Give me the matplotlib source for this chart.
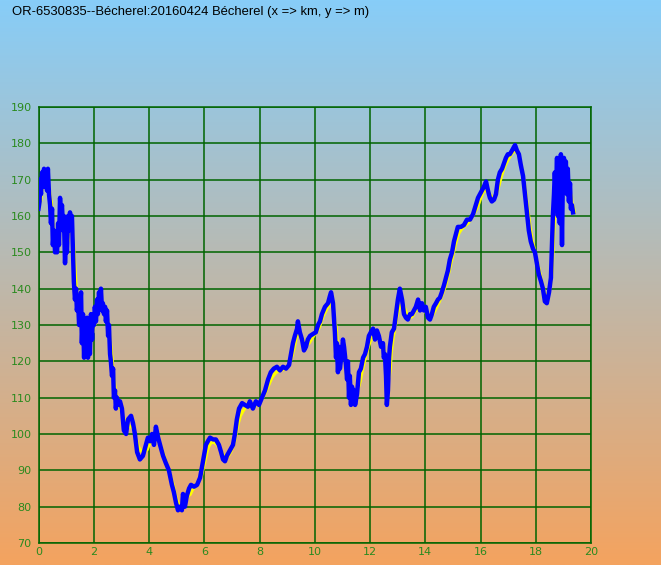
import numpy as np
import matplotlib
matplotlib.use("Agg")
import matplotlib.pyplot as plt
import matplotlib.transforms as mtransforms
from matplotlib.colors import LinearSegmentedColormap

title = "OR-6530835--Bécherel:20160424 Bécherel (x => km, y => m)"

km = [0.00, 0.04, 0.05, 0.09, 0.13, 0.16, 0.20, 0.24, 0.27, 0.31, 0.34, 0.38, 0.42, 0.45, 0.49,
      0.52, 0.56, 0.60, 0.63, 0.67, 0.71, 0.74, 0.78, 0.81, 0.85, 0.89, 0.92, 0.96, 1.00, 1.03,
      1.07, 1.10, 1.14, 1.18, 1.21, 1.25, 1.28, 1.32, 1.36, 1.39, 1.43, 1.47, 1.50, 1.54, 1.57,
      1.61, 1.65, 1.68, 1.72, 1.76, 1.79, 1.83, 1.86, 1.90, 1.94, 1.97, 2.01, 2.04, 2.08, 2.12,
      2.15, 2.19, 2.23, 2.26, 2.30, 2.33, 2.37, 2.41, 2.44, 2.48, 2.52, 2.55, 2.59, 2.62, 2.66,
      2.70, 2.73, 2.77, 2.80, 2.84, 2.88, 2.95, 3.02, 3.09, 3.17, 3.24, 3.35, 3.42, 3.49, 3.57,
      3.67, 3.78, 3.89, 3.96, 4.04, 4.11, 4.18, 4.25, 4.33, 4.40, 4.51, 4.61, 4.72, 4.83, 4.90,
      4.98, 5.05, 5.12, 5.19, 5.23, 5.30, 5.37, 5.45, 5.52, 5.63, 5.74, 5.85, 5.92, 5.99, 6.06,
      6.13, 6.21, 6.32, 6.42, 6.53, 6.61, 6.68, 6.75, 6.82, 6.93, 7.04, 7.11, 7.18, 7.26, 7.37,
      7.47, 7.58, 7.65, 7.76, 7.87, 7.98, 8.09, 8.20, 8.31, 8.41, 8.52, 8.63, 8.74, 8.85, 8.96,
      9.07, 9.14, 9.21, 9.28, 9.36, 9.39, 9.46, 9.54, 9.61, 9.68, 9.75, 9.83, 9.93, 10.04, 10.12,
      10.19, 10.26, 10.37, 10.48, 10.55, 10.59, 10.66, 10.73, 10.77, 10.80, 10.84, 10.88, 10.91, 10.99, 11.02,
      11.06, 11.13, 11.17, 11.20, 11.24, 11.27, 11.31, 11.35, 11.38, 11.42, 11.46, 11.53, 11.60, 11.67, 11.75,
      11.82, 11.89, 11.96, 12.03, 12.11, 12.18, 12.25, 12.32, 12.40, 12.47, 12.50, 12.54, 12.58, 12.61, 12.65,
      12.69, 12.72, 12.79, 12.87, 12.94, 13.01, 13.08, 13.16, 13.23, 13.30, 13.37, 13.45, 13.52, 13.59, 13.66,
      13.74, 13.81, 13.88, 13.95, 14.02, 14.10, 14.17, 14.24, 14.31, 14.39, 14.46, 14.53, 14.60, 14.68, 14.75,
      14.82, 14.89, 14.97, 15.04, 15.11, 15.18, 15.29, 15.40, 15.51, 15.62, 15.73, 15.83, 15.91, 15.98, 16.05,
      16.12, 16.20, 16.27, 16.34, 16.41, 16.49, 16.56, 16.63, 16.70, 16.78, 16.85, 16.92, 16.99, 17.06, 17.14,
      17.21, 17.25, 17.32, 17.39, 17.46, 17.54, 17.61, 17.68, 17.75, 17.82, 17.90, 17.97, 18.04, 18.11, 18.19,
      18.26, 18.33, 18.40, 18.48, 18.55, 18.58, 18.62, 18.66, 18.69, 18.73, 18.77, 18.80, 18.84, 18.87, 18.91,
      18.95, 18.98, 19.02, 19.06, 19.09, 19.13, 19.16, 19.20, 19.24, 19.27, 19.31, 19.35]

elev = [162, 164, 170, 166, 172, 168, 173, 168, 172, 167, 173, 166, 163, 158, 162,
        152, 156, 150, 153, 150, 158, 152, 165, 160, 163, 156, 160, 147, 155, 150,
        160, 156, 161, 158, 160, 150, 142, 137, 140, 134, 137, 130, 135, 139, 125,
        133, 121, 130, 125, 132, 121, 129, 122, 133, 126, 132, 130, 135, 131, 137,
        133, 139, 135, 140, 134, 136, 133, 135, 131, 134, 127, 130, 122, 120, 116,
        118, 110, 112, 107, 110, 108, 109, 107, 101, 100, 104, 105, 103, 100, 95,
        93, 94, 97, 99, 98, 100, 97, 102, 99, 97, 94, 92, 90, 86, 84,
        81, 79, 80, 79, 83.5, 80, 83, 85, 86, 85.5, 86, 88, 91, 94, 97,
        98, 99, 98.5, 98.5, 97, 95, 93, 92.5, 94, 95.5, 97, 100, 104, 107, 108.5,
        108, 107.5, 109, 107, 109, 108, 110, 112, 115, 117, 118, 118.5, 117.5, 118.5, 118,
        119, 122, 125, 127, 129, 131, 128, 126, 123, 124, 126, 127, 127.5, 128, 130,
        131, 133, 135, 136, 138, 139, 136, 128, 121, 125, 117, 124, 118, 123, 126,
        124, 119, 115, 120, 110, 116, 108, 113, 109, 112, 108, 111, 117, 118, 121,
        122, 124, 127, 128, 129, 126, 128.5, 127, 124, 125, 121, 122, 116, 108, 112,
        121, 124, 128, 129, 133, 137, 140, 137, 133, 132, 131.5, 133, 133, 134, 135,
        137, 134, 136, 134, 135, 132, 131.5, 133, 135, 136, 137, 137.5, 139, 141, 143,
        145, 148, 150, 153, 155, 157, 157, 157.5, 159, 159, 160.5, 163, 165, 166, 167,
        168, 169.5, 167, 165, 164, 164.5, 166, 170, 172, 173, 174.5, 176, 177, 177, 178,
        179, 179.5, 178, 177, 174, 171, 166, 161, 156, 153, 151, 150, 147, 144, 142,
        140, 136.5, 136, 139, 143, 150, 160, 166, 172, 165, 176, 160, 172, 158, 177,
        152, 170, 176, 168, 175, 166, 173, 164, 169, 162, 163, 161]

x_ticks = [0, 2, 4, 6, 8, 10, 12, 14, 16, 18, 20]
y_ticks = [70, 80, 90, 100, 110, 120, 130, 140, 150, 160, 170, 180, 190]

W, H = 661, 565
fig = plt.figure(figsize=(W / 100, H / 100), dpi=100)

# background gradient
bg = fig.add_axes([0, 0, 1, 1], zorder=-10)
cmap = LinearSegmentedColormap.from_list("bg", ["#87CDF8", "#F4A35F"])
grad = np.linspace(0, 1, 256).reshape(-1, 1)
bg.imshow(grad, aspect="auto", cmap=cmap, extent=[0, 1, 0, 1], origin="upper")
bg.set_axis_off()

ax = fig.add_axes([38.5 / W, (H - 543) / H, (591 - 38.5) / W, (543 - 107) / H])
ax.patch.set_alpha(0)
ax.set_xlim(0, 20)
ax.set_ylim(70, 190)
ax.set_xticks(x_ticks)
ax.set_yticks(y_ticks)
grid_col = "#006400"
ax.grid(True, color=grid_col, linewidth=1.1)
ax.set_axisbelow(True)
for s in ax.spines.values():
    s.set_color(grid_col)
    s.set_linewidth(1.1)
ax.tick_params(length=0, colors="#2A8A1E", labelsize=8)
ax.tick_params(axis="y", pad=5)
ax.tick_params(axis="x", pad=3)

x = np.array(km)
y = np.array(elev)
k = 5
pad = np.pad(y, (k // 2, k // 2), mode="edge")
ys = np.convolve(pad, np.ones(k) / k, mode="valid")
shift = mtransforms.offset_copy(ax.transData, fig=fig, x=1.2, y=-1.8, units="dots")
ax.plot(x, ys, color="#FFFF00", linewidth=2.4, transform=shift, zorder=3)
ax.plot(x, y, color="#0000FF", linewidth=3.2, zorder=4)

fig.text(12 / W, 1 - 12 / H, title, fontsize=9.4, family="Liberation Sans",
         va="center", ha="left", color="black")

fig.savefig("out.png", dpi=100)
